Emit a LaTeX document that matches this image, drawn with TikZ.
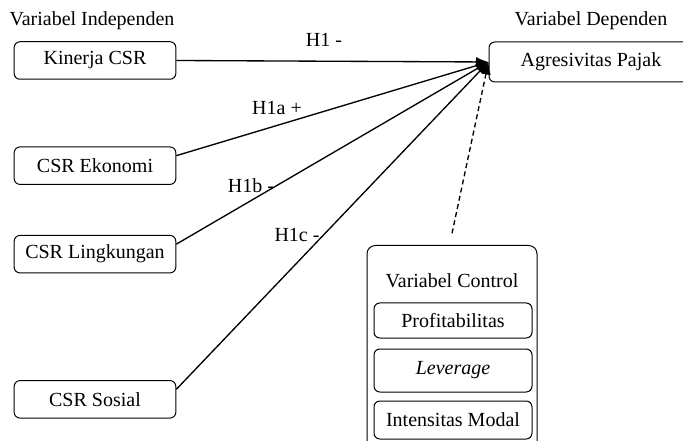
\documentclass[tikz,border=0pt]{standalone}
\usepackage{fontspec}
\setmainfont{Liberation Serif}
\usetikzlibrary{arrows.meta,positioning}

\begin{document}
\begin{tikzpicture}[
  x=0.6pt, y=-0.6pt,
  node distance=40pt,
  every node/.style={font=\rmfamily\fontsize{12}{14}\selectfont},
  box/.style={draw, rounded corners=3.5pt, line width=0.6pt, align=center, inner sep=0pt, minimum width=97pt, minimum height=22.5pt},
  depbox/.style={box, minimum width=122.4pt, minimum height=24pt},
  ctrlbox/.style={draw, rounded corners=5pt, line width=0.6pt, minimum width=102pt, minimum height=135pt},
  itembox/.style={box, minimum width=94.8pt},
  txt/.style={inner sep=1pt},
  arrow/.style={-{Latex[length=7.5pt,width=6pt]}, line width=0.8pt}
]
\useasboundingbox (0,0) rectangle (683,441);

% independent side
\node[txt] (indep) at (92,21) {Variabel Independen};
\node[box] (kinerja) at (95,60.5) {Kinerja CSR};
\node[box, below=40pt of kinerja] (ekonomi) {CSR Ekonomi};
\node[box, below=30pt of ekonomi] (lingkungan) {CSR Lingkungan};
\node[box, below=64pt of lingkungan] (sosial) {CSR Sosial};

% dependent side
\node[txt] (dep) at (591,21) {Variabel Dependen};
\node[depbox] (agresif) at (591,62) {Agresivitas Pajak};

% control variables
\node[ctrlbox, anchor=north] (ctrl) at (452,245) {};
\node[txt] (ctrltitle) at (452,281) {Variabel Control};
\node[itembox, minimum height=21pt] (profit) at (453,320.5) {Profitabilitas};
\node[itembox, minimum height=25.8pt, below=6pt of profit] (leverage) {\textit{Leverage}};
\node[itembox, minimum height=22.8pt, below=4.8pt of leverage] (modal) {Intensitas Modal};

% hypotheses
\draw[arrow] (kinerja.east) -- (agresif.west);
\draw[arrow] ([yshift=6pt]ekonomi.east) -- (agresif.west);
\draw[arrow] ([yshift=6pt]lingkungan.east) -- (agresif.west);
\draw[arrow] ([yshift=6pt]sosial.east) -- (agresif.west);
\draw[arrow, dash pattern=on 3pt off 2pt] ([yshift=7pt]ctrl.north) -- (agresif.west);

\node[txt] (h1) at (324,40) {H1 -};
\node[txt] (h1a) at (277,108) {H1a +};
\node[txt] (h1b) at (251,186) {H1b -};
\node[txt] (h1c) at (297,235) {H1c -};
\end{tikzpicture}
\end{document}
